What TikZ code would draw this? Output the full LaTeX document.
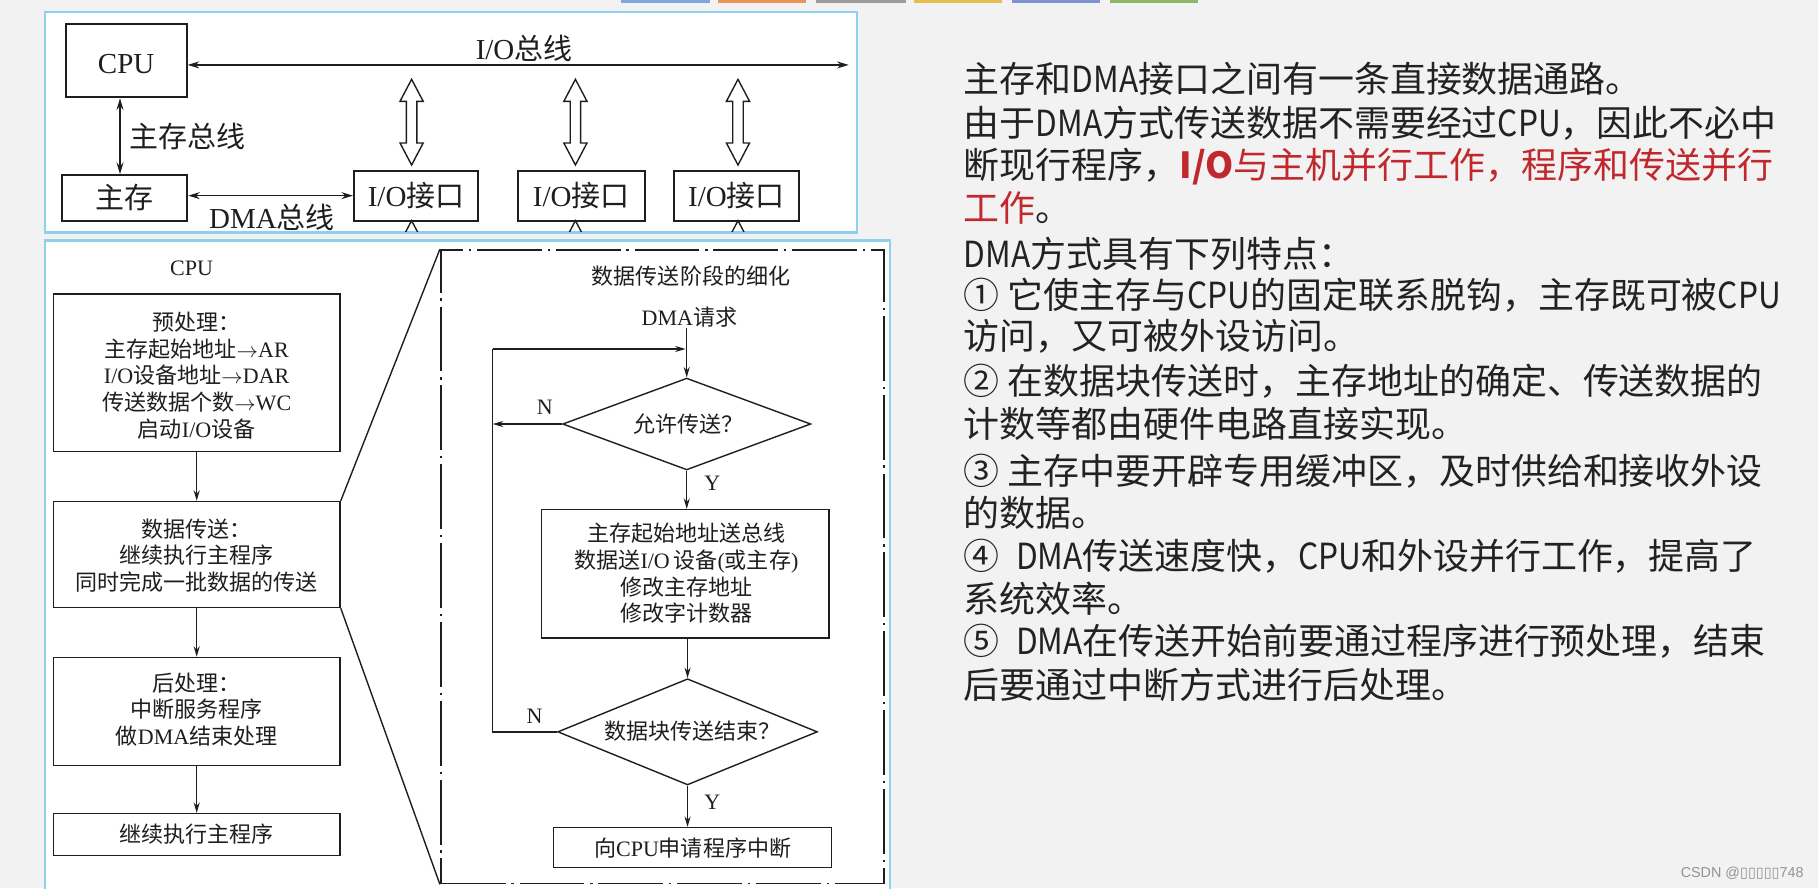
\documentclass[tikz,border=0pt]{standalone}
\usepackage{fontspec}
\usepackage{graphicx}
\setmainfont{Liberation Serif}
\newfontfamily\cjk{Noto Sans CJK SC}
\newfontfamily\wmfont{Liberation Sans}
\newfontfamily\djv{DejaVu Sans}
\usetikzlibrary{arrows.meta,fit,shapes.geometric,calc}
\newcommand\zh[1]{{\cjk #1}}
\newcommand\lat[1]{\scalebox{0.88}[1]{#1}}
\definecolor{bgc}{HTML}{F2F2F2}
\definecolor{frameb}{HTML}{8ED1EC}
\definecolor{ink}{HTML}{1E1E1E}
\definecolor{txt}{HTML}{222222}
\definecolor{redt}{HTML}{C0282D}
\definecolor{tabA}{HTML}{7FA7D8}
\definecolor{tabB}{HTML}{E8955A}
\definecolor{tabC}{HTML}{9C9C9C}
\definecolor{tabD}{HTML}{E6BE50}
\definecolor{tabE}{HTML}{7E93D0}
\definecolor{tabF}{HTML}{8DB86A}
\begin{document}
\begin{tikzpicture}[x=0.5pt,y=-0.5pt,
  tbox/.style={draw=ink, line width=0.85pt, inner sep=0pt},
  ttxt/.style={inner sep=0pt, text=ink, font=\fontsize{12.5}{15}\selectfont},
  bus/.style={draw=ink, line width=0.6pt, {Stealth[length=5pt,width=3pt]}-{Stealth[length=5pt,width=3pt]}},
  hollow/.style={draw=ink, line width=0.6pt, fill=white},
  fbox/.style={draw=ink, line width=0.6pt, inner sep=0pt},
  ftxt/.style={inner sep=0pt, text=ink, align=center, font=\fontsize{9.5}{11.5}\selectfont},
  farr/.style={draw=ink, line width=0.6pt, -{Stealth[length=4.5pt,width=2.6pt]}},
  fline/.style={draw=ink, line width=0.6pt},
  dec/.style={draw=ink, line width=0.6pt, shape=diamond, inner sep=0pt},
  rtxt/.style={inner sep=0pt, anchor=west, text=txt, font=\cjk\fontsize{15.5}{18}\selectfont}
]
\useasboundingbox (0,0) rectangle (1568,766);
\clip (0,0) rectangle (1568,766);
\fill[bgc] (0,0) rectangle (1568,766);

% top tabs
\foreach \a/\b/\c in {536/612/tabA,619/695/tabB,704/781/tabC,788/864/tabD,873/949/tabE,957/1033/tabF}
  \fill[\c] (\a,0) rectangle (\b,2.6);

% panels
\draw[frameb, line width=1.1pt, fill=white] (38.8,10.5) rectangle (739,200.7);
\draw[frameb, line width=1.1pt, fill=white] (38.8,207.5) rectangle (767.6,800);

% ---------- top diagram ----------
\node[tbox, fit={(56.6,20.7) (161,83.9)}] (cpu) {};
\node[ttxt] (cputxt) at (108.8,55) {CPU};
\node[tbox, fit={(53.2,151) (161.5,190.3)}] (mem) {};
\node[ttxt] (memtxt) at (107.3,170.5) {\zh{主存}};
\node[tbox, fit={(305.3,147.2) (412.5,190.3)}] (io1) {};
\node[tbox, fit={(446.5,147.2) (556,190.3)}] (io2) {};
\node[tbox, fit={(581.5,147.2) (689,190.3)}] (io3) {};
\node[ttxt] (io1t) at (io1.center) {I/O\zh{接口}};
\node[ttxt] (io2t) at (io2.center) {I/O\zh{接口}};
\node[ttxt] (io3t) at (io3.center) {I/O\zh{接口}};

\coordinate (busend) at (732,56);
\draw[bus] (cpu.east |- busend) -- (busend);
\node[ttxt] (iobuslbl) at (452,42) {I/O\zh{总线}};
\coordinate (mbx) at (103.5,0);
\draw[bus] (cpu.south -| mbx) -- (mem.north -| mbx);
\node[ttxt, anchor=west] (mblbl) at (111,118) {\zh{主存总线}};
\draw[bus] (mem.east |- io1.west) -- (io1.west);
\node[ttxt] (dmalbl) at (234.5,187.5) {DMA\zh{总线}};

% hollow double arrows
\foreach \x in {355,496.3,636.5}{
  \draw[hollow] (\x,68.4) -- (\x+10,87.4) -- (\x+4.5,87.4) -- (\x+4.5,123.3) -- (\x+10,123.3)
    -- (\x,142.3) -- (\x-10,123.3) -- (\x-4.5,123.3) -- (\x-4.5,87.4) -- (\x-10,87.4) -- cycle;
}
\begin{scope}
  \clip (38.8,10.5) rectangle (739,199.8);
  \foreach \x in {355,496.3,636.5}{
    \draw[ink, line width=0.6pt] (\x-10,209.3) -- (\x,190.3) -- (\x+10,209.3);
  }
\end{scope}

% ---------- left flowchart ----------
\node[ftxt] (cpulbl) at (165.3,231.4) {CPU};
\node[fbox, fit={(46,253.7) (293.3,389.4)}] (b1) {};
\node[ftxt] (b1t) at (169.6,323.8) {\zh{预处理：}\\\zh{主存起始地址}$\rightarrow$AR\\I/O\zh{设备地址}$\rightarrow$DAR\\\zh{传送数据个数}$\rightarrow$WC\\\zh{启动}I/O\zh{设备}};
\node[fbox, fit={(46,432.5) (293.3,524)}] (b2) {};
\node[ftxt] (b2t) at (169.6,479) {\zh{数据传送：}\\\zh{继续执行主程序}\\\zh{同时完成一批数据的传送}};
\node[fbox, fit={(46,567) (293.3,660.4)}] (b3) {};
\node[ftxt] (b3t) at (169.6,612) {\zh{后处理：}\\\zh{中断服务程序}\\\zh{做}DMA\zh{结束处理}};
\node[fbox, fit={(46,701.7) (293.3,737.6)}] (b4) {};
\node[ftxt] (b4t) at (169.6,719.7) {\zh{继续执行主程序}};
\draw[farr] (b1.south) -- (b2.north);
\draw[farr] (b2.south) -- (b3.north);
\draw[farr] (b3.south) -- (b4.north);

% ---------- detail frame ----------
\node[draw=ink, line width=0.7pt, dash pattern=on 28pt off 2.5pt on 1pt off 2.5pt, inner sep=0pt,
      fit={(380.1,215.6) (762.5,762)}] (df) {};
\draw[fline] (b2.north east) -- (df.north west);
\draw[fline] (b2.south east) -- (df.south west);

\node[ftxt] (dtitle) at (596,238) {\zh{数据传送阶段的细化}};
\node[ftxt] (dmareq) at (594.6,273.7) {DMA\zh{请求}};
\node[dec, minimum width=107pt, minimum height=39.6pt] (d1) at (592.3,365.7) {};
\node[ftxt] (d1t) at (594,366) {\zh{允许传送？}};
\node[fbox, fit={(467.2,439.5) (715,550.4)}] (pb) {};
\node[ftxt] (pbt) at (592,494.6) {\zh{主存起始地址送总线}\\\zh{数据送}I/O\,\zh{设备}(\zh{或主存})\\\zh{修改主存地址}\\\zh{修改字计数器}};
\node[dec, minimum width=112pt, minimum height=45.8pt] (d2) at (593,631.2) {};
\node[ftxt] (d2t) at (597,630.5) {\zh{数据块传送结束？}};
\node[fbox, fit={(477.3,713.8) (717.4,748.4)}] (fin) {};
\node[ftxt] (fint) at (fin.center) {\zh{向}CPU\zh{申请程序中断}};

\coordinate (lx) at (425,0);
\coordinate (ly) at (0,301);
\draw[farr] (d1.north |- dmareq.south) -- (d1.north);
\draw[farr] (lx |- ly) -- ($(d1.north |- ly)+(-1,0)$);
\draw[farr] (d1.west) -- (lx |- d1.west);
\draw[fline] (d2.west) -- (lx |- d2.west) -- (lx |- ly);
\draw[farr] (d1.south) -- (d1.south |- pb.north);
\draw[farr] (d2.north |- pb.south) -- (d2.north);
\draw[farr] (d2.south) -- (d2.south |- fin.north);
\node[ftxt] (n1) at (470,351) {N};
\node[ftxt] (y1) at (614.4,417) {Y};
\node[ftxt] (n2) at (461,618) {N};
\node[ftxt] (y2) at (614.4,692) {Y};

% ---------- right text ----------
\node[rtxt] (r1) at (831,67.6) {主存和\lat{DMA}接口之间有一条直接数据通路。};
\node[rtxt] (r2) at (831,106.4) {由于\lat{DMA}方式传送数据不需要经过\lat{CPU}，因此不必中};
\node[rtxt] (r3) at (831,143.7) {断现行程序，{\color{redt}\bfseries I/O}{\color{redt}与主机并行工作，程序和传送并行}};
\node[rtxt] (r4) at (831,179.7) {{\color{redt}工作}。};
\node[rtxt] (r5) at (831,218.5) {\lat{DMA}方式具有下列特点：};
\node[rtxt] (r6) at (831,254.4) {① 它使主存与\lat{CPU}的固定联系脱钩，主存既可被\lat{CPU}};
\node[rtxt] (r7) at (831,290.4) {访问，又可被外设访问。};
\node[rtxt] (r8) at (831,329.2) {② 在数据块传送时，主存地址的确定、传送数据的};
\node[rtxt] (r9) at (831,365.1) {计数等都由硬件电路直接实现。};
\node[rtxt] (r10) at (831,406.8) {③ 主存中要开辟专用缓冲区，及时供给和接收外设};
\node[rtxt] (r11) at (831,442.7) {的数据。};
\node[rtxt] (r12) at (831,480) {④ \ \lat{DMA}传送速度快，\lat{CPU}和外设并行工作，提高了};
\node[rtxt] (r13) at (831,516) {系统效率。};
\node[rtxt] (r14) at (831,553.4) {⑤ \ \lat{DMA}在传送开始前要通过程序进行预处理，结束};
\node[rtxt] (r15) at (831,590.8) {后要通过中断方式进行后处理。};

\node[anchor=east, inner sep=0pt, text=gray!85, font=\wmfont\fontsize{6.2}{7}\selectfont] (wm) at (1556,753) {CSDN @{\djv ▯▯▯▯▯}748};
\end{tikzpicture}
\end{document}
